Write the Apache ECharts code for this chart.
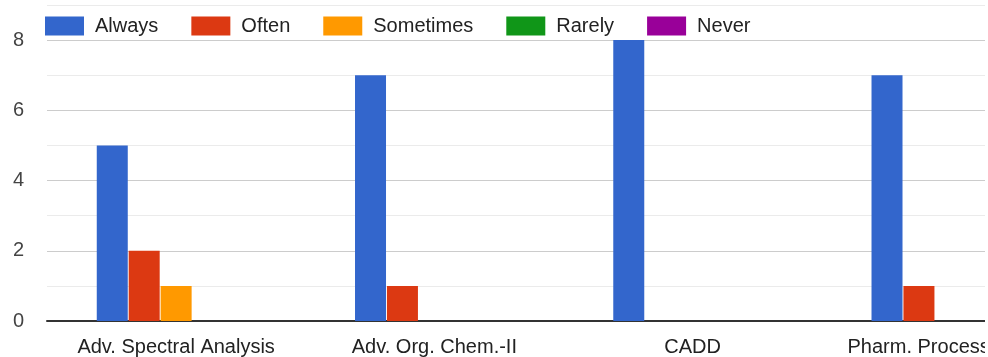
<!DOCTYPE html>
<html>
<head>
<meta charset="utf-8">
<script src="https://cdn.jsdelivr.net/npm/echarts@6/dist/echarts.min.js"></script>
<style>
html,body{margin:0;padding:0;background:#fff;}
#chart{width:988px;height:357px;}
</style>
</head>
<body>
<div id="chart"></div>
<script>
const categories = ['Adv. Spectral Analysis', 'Adv. Org. Chem.-II', 'CADD', 'Pharm. Process Chem.'];
const seriesNames = ['Always', 'Often', 'Sometimes', 'Rarely', 'Never'];
const always = [5, 7, 8, 7];
const often = [2, 1, 0, 1];
const sometimes = [1, 0, 0, 0];
const rarely = [0, 0, 0, 0];
const never = [0, 0, 0, 0];
const yTickLabels = [0, 2, 4, 6, 8];

const colors = ['#3366cc', '#dc3912', '#ff9900', '#109618', '#990099'];
const values = [always, often, sometimes, rarely, never];
const FONT = 'Liberation Sans, Arial, sans-serif';

const chart = echarts.init(document.getElementById('chart'), null, {renderer: 'canvas'});
chart.setOption({
  animation: false,
  color: colors,
  textStyle: {fontFamily: FONT},
  legend: {
    left: 40,
    top: 11,
    itemWidth: 39,
    itemHeight: 19,
    itemGap: 33,
    icon: 'rect',
    textStyle: {fontSize: 20, color: '#222', fontFamily: FONT, padding: [0, 0, 0, 6]},
    data: seriesNames
  },
  grid: {left: 47, top: 5, bottom: 36, right: -92, containLabel: false, outerBoundsMode: 'none'},
  xAxis: {
    type: 'category',
    data: categories,
    axisTick: {show: false},
    axisLine: {lineStyle: {color: '#333', width: 2}},
    axisLabel: {interval: 0, fontSize: 20, color: '#222', fontFamily: FONT, margin: 16}
  },
  yAxis: {
    type: 'value',
    min: 0,
    max: 9,
    interval: 1,
    axisLine: {show: false},
    axisTick: {show: false},
    axisLabel: {
      fontSize: 20, color: '#444', fontFamily: FONT, margin: 23,
      formatter: v => (yTickLabels.indexOf(v) >= 0 ? String(v) : '')
    },
    splitLine: {lineStyle: {color: ['#cccccc', '#ebebeb'], width: 1}}
  },
  series: seriesNames.map((n, i) => ({
    name: n,
    type: 'bar',
    data: values[i],
    barWidth: 31,
    barGap: '3%',
    itemStyle: {color: colors[i]}
  })),
  graphic: [{
    type: 'rect', z: 100,
    shape: {x: 985, y: 0, width: 3, height: 357},
    style: {fill: '#fff'}
  }]
});
</script>
</body>
</html>
